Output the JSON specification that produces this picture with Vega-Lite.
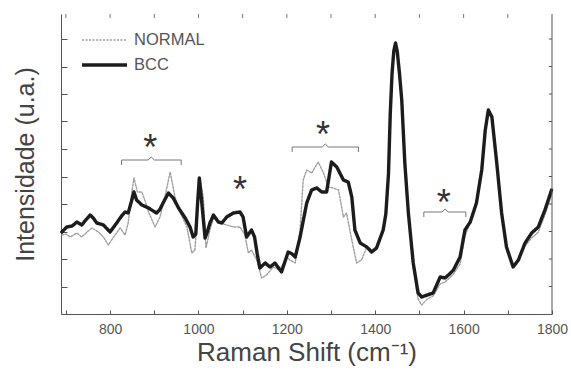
{
  "$schema": "https://vega.github.io/schema/vega-lite/v6.json",
  "width": 491,
  "height": 300,
  "autosize": {"type": "none"},
  "padding": {"left": 61, "top": 14, "right": 19, "bottom": 58},
  "background": "white",
  "config": {
    "view": {"stroke": null},
    "font": "Liberation Sans",
    "axis": {"grid": false, "domainColor": "#555", "tickColor": "#555", "labelColor": "#555", "labelFont": "Liberation Sans", "titleFont": "Liberation Sans", "titleFontWeight": "normal", "titleColor": "#444"},
    "legend": {"labelFont": "Liberation Sans"}
  },
  "datasets": {
    "spectra": [
      {"s": "NORMAL", "x": 691, "y": 79}, {"s": "NORMAL", "x": 700, "y": 80}, {"s": "NORMAL", "x": 710, "y": 77}, {"s": "NORMAL", "x": 725, "y": 81}, {"s": "NORMAL", "x": 736, "y": 77}, {"s": "NORMAL", "x": 748, "y": 82}, {"s": "NORMAL", "x": 759, "y": 86}, {"s": "NORMAL", "x": 774, "y": 82}, {"s": "NORMAL", "x": 785, "y": 77}, {"s": "NORMAL", "x": 796, "y": 69}, {"s": "NORMAL", "x": 808, "y": 77}, {"s": "NORMAL", "x": 823, "y": 86}, {"s": "NORMAL", "x": 834, "y": 79}, {"s": "NORMAL", "x": 841, "y": 91}, {"s": "NORMAL", "x": 849, "y": 121}, {"s": "NORMAL", "x": 854, "y": 136}, {"s": "NORMAL", "x": 862, "y": 122}, {"s": "NORMAL", "x": 872, "y": 122}, {"s": "NORMAL", "x": 880, "y": 112}, {"s": "NORMAL", "x": 887, "y": 102}, {"s": "NORMAL", "x": 902, "y": 87}, {"s": "NORMAL", "x": 913, "y": 97}, {"s": "NORMAL", "x": 924, "y": 117}, {"s": "NORMAL", "x": 936, "y": 142}, {"s": "NORMAL", "x": 947, "y": 117}, {"s": "NORMAL", "x": 958, "y": 102}, {"s": "NORMAL", "x": 974, "y": 87}, {"s": "NORMAL", "x": 979, "y": 75}, {"s": "NORMAL", "x": 985, "y": 61}, {"s": "NORMAL", "x": 992, "y": 64}, {"s": "NORMAL", "x": 997, "y": 95}, {"s": "NORMAL", "x": 1000, "y": 121}, {"s": "NORMAL", "x": 1004, "y": 134}, {"s": "NORMAL", "x": 1011, "y": 117}, {"s": "NORMAL", "x": 1017, "y": 66}, {"s": "NORMAL", "x": 1026, "y": 84}, {"s": "NORMAL", "x": 1034, "y": 96}, {"s": "NORMAL", "x": 1049, "y": 91}, {"s": "NORMAL", "x": 1064, "y": 89}, {"s": "NORMAL", "x": 1079, "y": 87}, {"s": "NORMAL", "x": 1094, "y": 87}, {"s": "NORMAL", "x": 1105, "y": 79}, {"s": "NORMAL", "x": 1113, "y": 61}, {"s": "NORMAL", "x": 1120, "y": 64}, {"s": "NORMAL", "x": 1132, "y": 54}, {"s": "NORMAL", "x": 1143, "y": 36}, {"s": "NORMAL", "x": 1154, "y": 39}, {"s": "NORMAL", "x": 1169, "y": 47}, {"s": "NORMAL", "x": 1184, "y": 44}, {"s": "NORMAL", "x": 1200, "y": 57}, {"s": "NORMAL", "x": 1207, "y": 54}, {"s": "NORMAL", "x": 1219, "y": 51}, {"s": "NORMAL", "x": 1230, "y": 84}, {"s": "NORMAL", "x": 1237, "y": 134}, {"s": "NORMAL", "x": 1245, "y": 144}, {"s": "NORMAL", "x": 1256, "y": 141}, {"s": "NORMAL", "x": 1271, "y": 152}, {"s": "NORMAL", "x": 1283, "y": 141}, {"s": "NORMAL", "x": 1294, "y": 127}, {"s": "NORMAL", "x": 1305, "y": 126}, {"s": "NORMAL", "x": 1317, "y": 124}, {"s": "NORMAL", "x": 1328, "y": 97}, {"s": "NORMAL", "x": 1335, "y": 101}, {"s": "NORMAL", "x": 1347, "y": 74}, {"s": "NORMAL", "x": 1358, "y": 51}, {"s": "NORMAL", "x": 1369, "y": 54}, {"s": "NORMAL", "x": 1381, "y": 67}, {"s": "NORMAL", "x": 1392, "y": 62}, {"s": "NORMAL", "x": 1403, "y": 66}, {"s": "NORMAL", "x": 1418, "y": 84}, {"s": "NORMAL", "x": 1424, "y": 100}, {"s": "NORMAL", "x": 1430, "y": 140}, {"s": "NORMAL", "x": 1434, "y": 200}, {"s": "NORMAL", "x": 1438, "y": 240}, {"s": "NORMAL", "x": 1442, "y": 263}, {"s": "NORMAL", "x": 1446, "y": 271}, {"s": "NORMAL", "x": 1450, "y": 262}, {"s": "NORMAL", "x": 1455, "y": 240}, {"s": "NORMAL", "x": 1460, "y": 214}, {"s": "NORMAL", "x": 1467, "y": 151}, {"s": "NORMAL", "x": 1475, "y": 99}, {"s": "NORMAL", "x": 1486, "y": 47}, {"s": "NORMAL", "x": 1497, "y": 15}, {"s": "NORMAL", "x": 1505, "y": 9}, {"s": "NORMAL", "x": 1518, "y": 15}, {"s": "NORMAL", "x": 1531, "y": 18}, {"s": "NORMAL", "x": 1547, "y": 30}, {"s": "NORMAL", "x": 1558, "y": 32}, {"s": "NORMAL", "x": 1568, "y": 36}, {"s": "NORMAL", "x": 1577, "y": 40}, {"s": "NORMAL", "x": 1592, "y": 50}, {"s": "NORMAL", "x": 1603, "y": 78}, {"s": "NORMAL", "x": 1615, "y": 92}, {"s": "NORMAL", "x": 1629, "y": 111}, {"s": "NORMAL", "x": 1641, "y": 144}, {"s": "NORMAL", "x": 1649, "y": 184}, {"s": "NORMAL", "x": 1656, "y": 204}, {"s": "NORMAL", "x": 1664, "y": 197}, {"s": "NORMAL", "x": 1675, "y": 151}, {"s": "NORMAL", "x": 1686, "y": 101}, {"s": "NORMAL", "x": 1697, "y": 67}, {"s": "NORMAL", "x": 1712, "y": 47}, {"s": "NORMAL", "x": 1724, "y": 54}, {"s": "NORMAL", "x": 1739, "y": 68}, {"s": "NORMAL", "x": 1754, "y": 76}, {"s": "NORMAL", "x": 1769, "y": 82}, {"s": "NORMAL", "x": 1784, "y": 99}, {"s": "NORMAL", "x": 1799, "y": 120},
      {"s": "BCC", "x": 691, "y": 82}, {"s": "BCC", "x": 702, "y": 87}, {"s": "BCC", "x": 714, "y": 88}, {"s": "BCC", "x": 725, "y": 92}, {"s": "BCC", "x": 736, "y": 89}, {"s": "BCC", "x": 745, "y": 94}, {"s": "BCC", "x": 755, "y": 99}, {"s": "BCC", "x": 762, "y": 96}, {"s": "BCC", "x": 770, "y": 91}, {"s": "BCC", "x": 785, "y": 89}, {"s": "BCC", "x": 800, "y": 82}, {"s": "BCC", "x": 815, "y": 91}, {"s": "BCC", "x": 826, "y": 98}, {"s": "BCC", "x": 834, "y": 102}, {"s": "BCC", "x": 841, "y": 101}, {"s": "BCC", "x": 848, "y": 112}, {"s": "BCC", "x": 854, "y": 122}, {"s": "BCC", "x": 860, "y": 114}, {"s": "BCC", "x": 872, "y": 109}, {"s": "BCC", "x": 887, "y": 106}, {"s": "BCC", "x": 905, "y": 101}, {"s": "BCC", "x": 912, "y": 104}, {"s": "BCC", "x": 920, "y": 111}, {"s": "BCC", "x": 932, "y": 121}, {"s": "BCC", "x": 943, "y": 116}, {"s": "BCC", "x": 955, "y": 106}, {"s": "BCC", "x": 970, "y": 96}, {"s": "BCC", "x": 981, "y": 87}, {"s": "BCC", "x": 988, "y": 77}, {"s": "BCC", "x": 994, "y": 80}, {"s": "BCC", "x": 998, "y": 110}, {"s": "BCC", "x": 1002, "y": 136}, {"s": "BCC", "x": 1007, "y": 114}, {"s": "BCC", "x": 1011, "y": 95}, {"s": "BCC", "x": 1015, "y": 76}, {"s": "BCC", "x": 1020, "y": 82}, {"s": "BCC", "x": 1026, "y": 91}, {"s": "BCC", "x": 1034, "y": 99}, {"s": "BCC", "x": 1045, "y": 92}, {"s": "BCC", "x": 1053, "y": 91}, {"s": "BCC", "x": 1064, "y": 97}, {"s": "BCC", "x": 1079, "y": 101}, {"s": "BCC", "x": 1094, "y": 102}, {"s": "BCC", "x": 1101, "y": 97}, {"s": "BCC", "x": 1109, "y": 77}, {"s": "BCC", "x": 1120, "y": 84}, {"s": "BCC", "x": 1127, "y": 77}, {"s": "BCC", "x": 1133, "y": 60}, {"s": "BCC", "x": 1139, "y": 46}, {"s": "BCC", "x": 1151, "y": 51}, {"s": "BCC", "x": 1162, "y": 47}, {"s": "BCC", "x": 1173, "y": 51}, {"s": "BCC", "x": 1188, "y": 42}, {"s": "BCC", "x": 1203, "y": 62}, {"s": "BCC", "x": 1212, "y": 60}, {"s": "BCC", "x": 1219, "y": 57}, {"s": "BCC", "x": 1230, "y": 77}, {"s": "BCC", "x": 1245, "y": 111}, {"s": "BCC", "x": 1256, "y": 124}, {"s": "BCC", "x": 1268, "y": 126}, {"s": "BCC", "x": 1279, "y": 122}, {"s": "BCC", "x": 1290, "y": 122}, {"s": "BCC", "x": 1301, "y": 152}, {"s": "BCC", "x": 1313, "y": 147}, {"s": "BCC", "x": 1328, "y": 134}, {"s": "BCC", "x": 1339, "y": 132}, {"s": "BCC", "x": 1347, "y": 117}, {"s": "BCC", "x": 1354, "y": 84}, {"s": "BCC", "x": 1366, "y": 71}, {"s": "BCC", "x": 1381, "y": 67}, {"s": "BCC", "x": 1392, "y": 62}, {"s": "BCC", "x": 1403, "y": 66}, {"s": "BCC", "x": 1418, "y": 84}, {"s": "BCC", "x": 1424, "y": 100}, {"s": "BCC", "x": 1430, "y": 140}, {"s": "BCC", "x": 1434, "y": 200}, {"s": "BCC", "x": 1438, "y": 240}, {"s": "BCC", "x": 1442, "y": 263}, {"s": "BCC", "x": 1446, "y": 271}, {"s": "BCC", "x": 1450, "y": 262}, {"s": "BCC", "x": 1455, "y": 240}, {"s": "BCC", "x": 1460, "y": 214}, {"s": "BCC", "x": 1467, "y": 151}, {"s": "BCC", "x": 1475, "y": 101}, {"s": "BCC", "x": 1486, "y": 51}, {"s": "BCC", "x": 1497, "y": 21}, {"s": "BCC", "x": 1505, "y": 17}, {"s": "BCC", "x": 1518, "y": 19}, {"s": "BCC", "x": 1531, "y": 21}, {"s": "BCC", "x": 1547, "y": 37}, {"s": "BCC", "x": 1558, "y": 36}, {"s": "BCC", "x": 1568, "y": 40}, {"s": "BCC", "x": 1577, "y": 44}, {"s": "BCC", "x": 1592, "y": 57}, {"s": "BCC", "x": 1603, "y": 84}, {"s": "BCC", "x": 1615, "y": 92}, {"s": "BCC", "x": 1629, "y": 111}, {"s": "BCC", "x": 1641, "y": 144}, {"s": "BCC", "x": 1649, "y": 184}, {"s": "BCC", "x": 1656, "y": 204}, {"s": "BCC", "x": 1664, "y": 197}, {"s": "BCC", "x": 1675, "y": 151}, {"s": "BCC", "x": 1686, "y": 101}, {"s": "BCC", "x": 1697, "y": 67}, {"s": "BCC", "x": 1712, "y": 47}, {"s": "BCC", "x": 1724, "y": 54}, {"s": "BCC", "x": 1739, "y": 71}, {"s": "BCC", "x": 1754, "y": 81}, {"s": "BCC", "x": 1769, "y": 87}, {"s": "BCC", "x": 1784, "y": 104}, {"s": "BCC", "x": 1799, "y": 124}
    ],
    "brackets": [
      {"b": 1, "o": 1, "x": 826, "y": 149}, {"b": 1, "o": 2, "x": 826, "y": 154}, {"b": 1, "o": 3, "x": 886, "y": 154}, {"b": 1, "o": 4, "x": 893, "y": 157}, {"b": 1, "o": 5, "x": 900, "y": 154}, {"b": 1, "o": 6, "x": 961, "y": 154}, {"b": 1, "o": 7, "x": 961, "y": 149},
      {"b": 2, "o": 1, "x": 1212, "y": 162}, {"b": 2, "o": 2, "x": 1212, "y": 167}, {"b": 2, "o": 3, "x": 1280, "y": 167}, {"b": 2, "o": 4, "x": 1287, "y": 170}, {"b": 2, "o": 5, "x": 1294, "y": 167}, {"b": 2, "o": 6, "x": 1362, "y": 167}, {"b": 2, "o": 7, "x": 1362, "y": 162},
      {"b": 3, "o": 1, "x": 1510, "y": 97}, {"b": 3, "o": 2, "x": 1510, "y": 102}, {"b": 3, "o": 3, "x": 1551, "y": 102}, {"b": 3, "o": 4, "x": 1558, "y": 105}, {"b": 3, "o": 5, "x": 1565, "y": 102}, {"b": 3, "o": 6, "x": 1605, "y": 102}, {"b": 3, "o": 7, "x": 1605, "y": 97}
    ],
    "stars": [
      {"t": "*", "x": 891, "y": 174},
      {"t": "*", "x": 1094, "y": 132},
      {"t": "*", "x": 1282, "y": 187},
      {"t": "*", "x": 1555, "y": 119}
    ],
    "topticks": [
      {"x": 700}, {"x": 800}, {"x": 900}, {"x": 1000}, {"x": 1100}, {"x": 1200}, {"x": 1300}, {"x": 1400}, {"x": 1500}, {"x": 1600}, {"x": 1700}
    ],
    "rightticks": [
      {"y": 27.5}, {"y": 55}, {"y": 82.5}, {"y": 110}, {"y": 137.5}, {"y": 165}, {"y": 192.5}, {"y": 220}, {"y": 247.5}, {"y": 275}
    ]
  },
  "resolve": {"axis": {"x": "independent", "y": "independent"}},
  "layer": [
    {
      "data": {"name": "spectra"},
      "mark": {"type": "line", "strokeJoin": "round", "strokeCap": "round"},
      "encoding": {
        "x": {"field": "x", "type": "quantitative", "scale": {"domain": [689, 1800], "nice": false, "zero": false},
          "axis": {"orient": "bottom", "values": [700, 800, 900, 1000, 1100, 1200, 1300, 1400, 1500, 1600, 1700, 1800], "labelExpr": "datum.value % 200 == 0 ? datum.label : ''", "format": "d", "tickSize": -4, "labelFontSize": 14, "labelPadding": 12, "title": "Raman Shift (cm⁻¹)", "titleFontSize": 26, "titlePadding": 3, "labelFlush": false}},
        "y": {"field": "y", "type": "quantitative", "scale": {"domain": [0, 300], "nice": false, "zero": false},
          "axis": {"orient": "left", "values": [27.5, 55, 82.5, 110, 137.5, 165, 192.5, 220, 247.5, 275], "labels": false, "tickSize": -6, "title": "Intensidade (u.a.)", "titleFontSize": 25, "titlePadding": 22}},
        "order": {"field": "x", "type": "quantitative"},
        "color": {"field": "s", "type": "nominal", "scale": {"domain": ["NORMAL", "BCC"], "range": ["#a0a0a0", "#1c1c1c"]},
          "legend": {"orient": "none", "legendX": 19, "legendY": 18, "title": null, "symbolType": "stroke", "symbolSize": 2025, "clipHeight": 16, "labelFontSize": 16.5, "labelColor": "#555", "labelOffset": 5, "rowPadding": 8}},
        "strokeWidth": {"field": "s", "type": "nominal", "scale": {"domain": ["NORMAL", "BCC"], "range": [1.4, 3.4]}},
        "strokeDash": {"field": "s", "type": "nominal", "scale": {"domain": ["NORMAL", "BCC"], "range": [[2, 1.5], [1, 0]]}}
      }
    },
    {
      "data": {"name": "brackets"},
      "mark": {"type": "line", "color": "#777", "strokeWidth": 1},
      "encoding": {
        "x": {"field": "x", "type": "quantitative", "axis": null},
        "y": {"field": "y", "type": "quantitative", "axis": null},
        "detail": {"field": "b", "type": "nominal"},
        "order": {"field": "o", "type": "quantitative"}
      }
    },
    {
      "data": {"name": "topticks"},
      "mark": {"type": "rule", "color": "#777", "strokeWidth": 1},
      "encoding": {
        "x": {"field": "x", "type": "quantitative", "axis": null},
        "y": {"datum": 300, "type": "quantitative", "axis": null},
        "y2": {"datum": 296}
      }
    },
    {
      "data": {"name": "rightticks"},
      "mark": {"type": "rule", "color": "#555", "strokeWidth": 1},
      "encoding": {
        "y": {"field": "y", "type": "quantitative", "axis": null},
        "x": {"datum": 1800, "type": "quantitative", "axis": null},
        "x2": {"datum": 1793}
      }
    },
    {
      "data": {"values": [{"edge": "right"}]},
      "mark": {"type": "rule", "color": "#555", "strokeWidth": 1},
      "encoding": {
        "x": {"datum": 1800, "type": "quantitative", "axis": null},
        "y": {"datum": 0, "type": "quantitative", "axis": null},
        "y2": {"datum": 300}
      }
    },
    {
      "data": {"name": "stars"},
      "mark": {"type": "text", "fontSize": 36, "color": "#333", "baseline": "alphabetic", "dy": 20, "font": "Liberation Sans"},
      "encoding": {
        "x": {"field": "x", "type": "quantitative", "axis": null},
        "y": {"field": "y", "type": "quantitative", "axis": null},
        "text": {"field": "t"}
      }
    }
  ]
}
